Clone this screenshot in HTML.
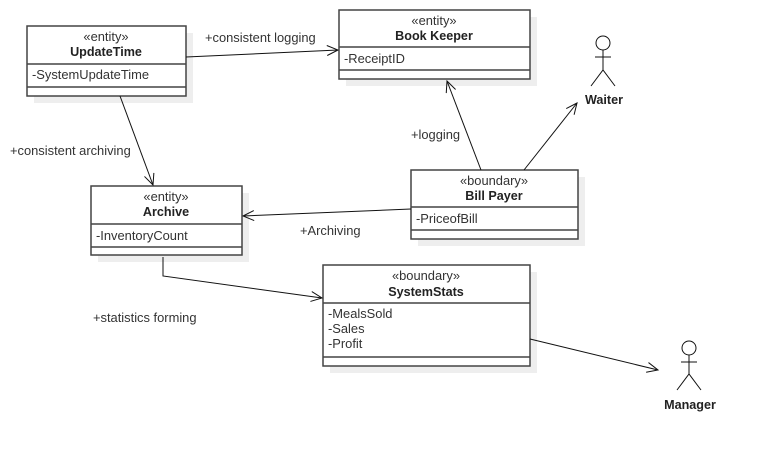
<!DOCTYPE html>
<html><head><style>
body{margin:0;background:#fff;}
svg{display:block;font-family:"Liberation Sans",Arial,sans-serif;}
.t{font-size:12.9px;fill:#333;}
.b{font-size:12.6px;font-weight:bold;fill:#222;}
.bx{fill:#fff;stroke:#444;stroke-width:1.5;}
.sh{fill:#eee;}
.ln{stroke:#444;stroke-width:1.5;}
.c{stroke:#111;stroke-width:1;fill:none;}
</style></head><body>
<svg width="761" height="457" viewBox="0 0 761 457">
<defs><marker id="a" markerWidth="14" markerHeight="12" refX="12" refY="6" orient="auto" markerUnits="userSpaceOnUse"><path d="M1,1 L12,6 L1,11" fill="none" stroke="#111" stroke-width="1"/></marker></defs>

<rect class="sh" x="34" y="33" width="159" height="70"/>
<rect class="bx" x="27" y="26" width="159" height="70"/>
<line class="ln" x1="27" y1="64" x2="186" y2="64"/><line class="ln" x1="27" y1="87" x2="186" y2="87"/>
<text class="t" x="106" y="41" text-anchor="middle">«entity»</text>
<text class="b" x="106" y="56" text-anchor="middle">UpdateTime</text>
<text class="t" x="32" y="79">-SystemUpdateTime</text>

<rect class="sh" x="346" y="17" width="191" height="69"/>
<rect class="bx" x="339" y="10" width="191" height="69"/>
<line class="ln" x1="339" y1="47" x2="530" y2="47"/><line class="ln" x1="339" y1="70" x2="530" y2="70"/>
<text class="t" x="434" y="25" text-anchor="middle">«entity»</text>
<text class="b" x="434" y="40" text-anchor="middle">Book Keeper</text>
<text class="t" x="344" y="63">-ReceiptID</text>

<rect class="sh" x="418" y="177" width="167" height="69"/>
<rect class="bx" x="411" y="170" width="167" height="69"/>
<line class="ln" x1="411" y1="207" x2="578" y2="207"/><line class="ln" x1="411" y1="230" x2="578" y2="230"/>
<text class="t" x="494" y="185" text-anchor="middle">«boundary»</text>
<text class="b" x="494" y="200" text-anchor="middle">Bill Payer</text>
<text class="t" x="416" y="223">-PriceofBill</text>

<rect class="sh" x="98" y="193" width="151" height="69"/>
<rect class="bx" x="91" y="186" width="151" height="69"/>
<line class="ln" x1="91" y1="224" x2="242" y2="224"/><line class="ln" x1="91" y1="247" x2="242" y2="247"/>
<text class="t" x="166" y="201" text-anchor="middle">«entity»</text>
<text class="b" x="166" y="216" text-anchor="middle">Archive</text>
<text class="t" x="96" y="240">-InventoryCount</text>

<rect class="sh" x="330" y="272" width="207" height="101"/>
<rect class="bx" x="323" y="265" width="207" height="101"/>
<line class="ln" x1="323" y1="303" x2="530" y2="303"/><line class="ln" x1="323" y1="357" x2="530" y2="357"/>
<text class="t" x="426" y="280" text-anchor="middle">«boundary»</text>
<text class="b" x="426" y="296" text-anchor="middle">SystemStats</text>
<text class="t" x="328" y="318">-MealsSold</text>
<text class="t" x="328" y="333">-Sales</text>
<text class="t" x="328" y="348">-Profit</text>

<circle class="c" cx="603" cy="43" r="7"/>
<line class="c" x1="603" y1="50" x2="603" y2="70"/>
<line class="c" x1="595" y1="57" x2="611" y2="57"/>
<path class="c" d="M591,86 L603,70 L615,86"/>
<text class="b" x="604" y="104" text-anchor="middle">Waiter</text>

<circle class="c" cx="689" cy="348" r="7"/>
<line class="c" x1="689" y1="355" x2="689" y2="374"/>
<line class="c" x1="681" y1="362" x2="697" y2="362"/>
<path class="c" d="M677,390 L689,374 L701,390"/>
<text class="b" x="690" y="409" text-anchor="middle">Manager</text>

<line class="c" x1="186" y1="57" x2="338" y2="50" marker-end="url(#a)"/>
<line class="c" x1="120" y1="96" x2="153" y2="185" marker-end="url(#a)"/>
<line class="c" x1="481" y1="170" x2="447" y2="81" marker-end="url(#a)"/>
<line class="c" x1="524" y1="170" x2="577" y2="103" marker-end="url(#a)"/>
<line class="c" x1="411" y1="209" x2="243" y2="216" marker-end="url(#a)"/>
<polyline class="c" points="163,257 163,276 322,298" marker-end="url(#a)"/>
<line class="c" x1="530" y1="339" x2="658" y2="370" marker-end="url(#a)"/>

<text class="t" x="205" y="42">+consistent logging</text>
<text class="t" x="10" y="155">+consistent archiving</text>
<text class="t" x="411" y="139">+logging</text>
<text class="t" x="300" y="235">+Archiving</text>
<text class="t" x="93" y="322">+statistics forming</text>
</svg>
</body></html>
